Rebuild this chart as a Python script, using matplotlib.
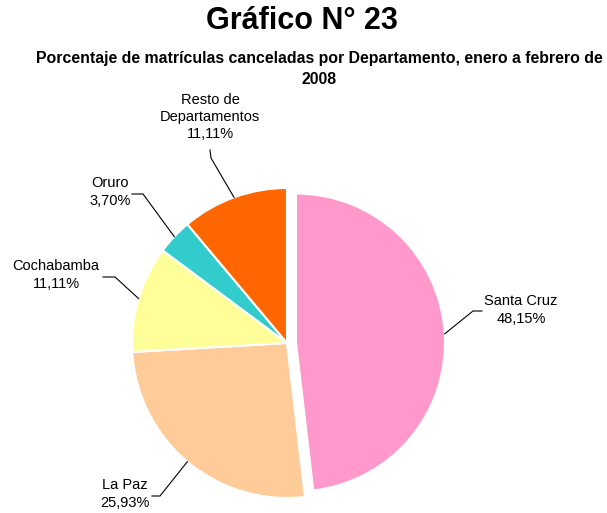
import matplotlib.pyplot as plt
import numpy as np

plt.rcParams['font.family'] = ['Liberation Sans', 'DejaVu Sans']

departamentos = ["Santa Cruz", "La Paz", "Cochabamba", "Oruro", "Resto de\nDepartamentos"]
porcentajes = [48.15, 25.93, 11.11, 3.70, 11.11]
colores = ["#FF99CC", "#FFCC99", "#FFFF99", "#33CCCC", "#FF6600"]

W, H = 607, 513


def px(x, y):
    # pixel coords (y down) -> data coords (y up)
    return x, H - y


fig = plt.figure(figsize=(W / 100, H / 100), dpi=100)
ax = fig.add_axes([0, 0, 1, 1])

cx, cy = px(287, 343)
r = 155
# explode is in data units here (radius is in pixels)
wedges, _ = ax.pie(porcentajes, colors=colores, startangle=90, counterclock=False,
                   explode=[9, 0, 0, 0, 0], center=(cx, cy), radius=r,
                   wedgeprops=dict(edgecolor='white', linewidth=1.5))
wedges[0].set_radius(149)
ax.set_xlim(0, W)
ax.set_ylim(0, H)
ax.set_aspect('equal')
ax.axis('off')

# label text centre and leader elbow points (pixels)
etiquetas = [
    ((521, 310), [(482, 311), (473, 311)]),
    ((125, 494), [(152, 496), (160, 496)]),
    ((56, 275), [(103, 277), (115, 277)]),
    ((110, 192), [(132, 194), (143, 194)]),
    ((210, 117), [(210, 150), (211, 158)]),
]

for w, nombre, pct, (pos, codo) in zip(wedges, departamentos, porcentajes, etiquetas):
    ang = np.deg2rad((w.theta1 + w.theta2) / 2)
    ccx, ccy = w.center
    ax_ = ccx + w.r * np.cos(ang)
    ay_ = ccy + w.r * np.sin(ang)
    xs = [px(*p)[0] for p in codo] + [ax_]
    ys = [px(*p)[1] for p in codo] + [ay_]
    ax.plot(xs, ys, color='black', lw=0.8)
    texto = f"{nombre}\n{pct:.2f}%".replace('.', ',')
    tx, ty = px(*pos)
    ax.text(tx, ty, texto, ha='center', va='center', fontsize=10.5,
            linespacing=1.3, multialignment='center')

fig.text(302 / W, 1 - 21 / H, "Gráfico N° 23", ha='center', va='center',
         fontsize=22, fontweight='bold')
fig.text(319 / W, 1 - 69 / H,
         "Porcentaje de matrículas canceladas por Departamento, enero a febrero de\n2008",
         ha='center', va='center', fontsize=11.4, fontweight='bold', linespacing=1.5)

fig.savefig('out.png', dpi=100)
